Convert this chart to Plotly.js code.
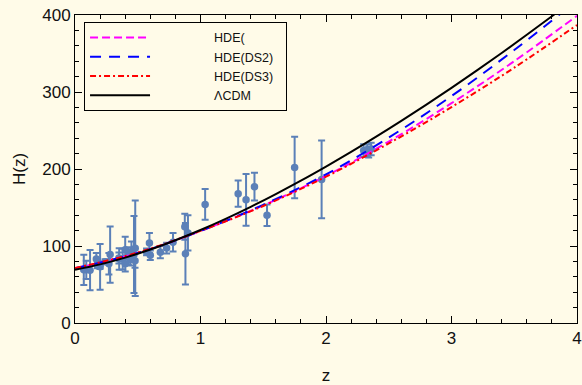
<!DOCTYPE html>
<html>
<head>
<meta charset="utf-8">
<script src="https://cdn.plot.ly/plotly-3.0.1.min.js"></script>
<style>html,body{margin:0;padding:0;background:#fffbe8;}</style>
</head>
<body>
<div id="chart" style="width:582px;height:385px;"></div>
<script>
// Observational H(z) data
const zObs = [0.07,0.09,0.12,0.17,0.179,0.199,0.2,0.24,0.27,0.28,0.35,0.352,0.3802,0.4,0.4004,0.4247,0.43,0.44,0.4497,0.47,0.4783,0.48,0.57,0.593,0.6,0.68,0.73,0.781,0.875,0.88,0.9,1.037,1.3,1.363,1.43,1.53,1.75,1.965,2.3,2.33,2.34,2.36];
const hObs = [69,69,68.6,83,75,75,72.9,79.7,77,88.8,84.4,83,83,95,77,87.1,86.5,82.6,92.8,89,80.9,97,92.4,104,87.9,92,97.3,105,125,90,117,154,168,160,177,140,202,186.5,224,224,222,226];
const hErr = [19.6,12,26.2,8,4,5,29.6,3,14,36.6,7,14,13.5,17,10.2,11.2,3.7,7.8,12.9,50,9,62,4.5,13,6.1,8,7,12,17,40,23,20,17,33.6,18,14,40,50.4,8,8,7,8];

// Model curves
const zModel = [0,0.5,1,1.5,2,2.5,3,3.5,4];
const hHDE1 = [71.1,90.9,119.6,152.7,191,235.7,285.5,340,399];
const hDS2  = [71.1,90.9,119.6,153.5,193,240.8,294.7,354.5,418.8];
const hDS3  = [71.4,91.4,119.6,152,190,233.2,280.4,331.6,387];
const zL = [0,0.2,0.4,0.6,0.8,1,1.2,1.4,1.6,1.8,2,2.2,2.4,2.6,2.8,3,3.2,3.4,3.6,3.8,4];
const hLCDM = [69,76.1,84.9,95.4,107.5,120.8,135.3,150.9,167.5,184.9,203.2,222.2,242,262.5,283.6,305.4,327.7,350.7,374.3,398.4,423];

const names = ['HDE(', 'HDE(DS2)', 'HDE(DS3)', '\u039BCDM'];
const pad = '\u00a0'.repeat(17);
const tail = '\u00a0'.repeat(2);

const ptColor = '#5b80b8';
const traces = [
  {x: zObs, y: hObs, type: 'scatter', mode: 'markers', showlegend: false,
   marker: {color: ptColor, size: 7.5},
   error_y: {type: 'data', array: hErr, visible: true, color: ptColor, thickness: 2, width: 3.5}},
  {x: zModel, y: hHDE1, type: 'scatter', mode: 'lines', name: pad + names[0] + tail,
   line: {color: '#ff00ff', width: 2, dash: '8px,4px', shape: 'spline'}},
  {x: zModel, y: hDS2, type: 'scatter', mode: 'lines', name: pad + names[1] + tail,
   line: {color: '#0000ff', width: 2, dash: '11px,8px', shape: 'spline'}},
  {x: zModel, y: hDS3, type: 'scatter', mode: 'lines', name: pad + names[2] + tail,
   line: {color: '#ff0000', width: 2, dash: '6px,3px,2px,3px', shape: 'spline'}},
  {x: zL, y: hLCDM, type: 'scatter', mode: 'lines', name: pad + names[3] + tail,
   line: {color: '#000000', width: 2, shape: 'spline'}}
];

const fontFam = '"Liberation Sans", Arial, sans-serif';
const axisCommon = {
  showgrid: false, zeroline: false, showline: true, linecolor: '#000', linewidth: 1,
  mirror: 'allticks', ticks: 'inside', ticklen: 7, tickcolor: '#000', tickwidth: 1,
  tickfont: {family: fontFam, size: 17, color: '#111'}
};

const layout = {
  width: 582, height: 385,
  paper_bgcolor: '#fffbe8', plot_bgcolor: '#fffbe8',
  margin: {l: 75, r: 5, t: 15, b: 62},
  font: {family: fontFam, color: '#111'},
  xaxis: Object.assign({}, axisCommon, {
    range: [0, 4], dtick: 1, tick0: 0,
    minor: {dtick: 0.2, ticks: 'inside', ticklen: 4, tickcolor: '#000'},
    title: {text: 'z', font: {family: fontFam, size: 17}, standoff: 21}
  }),
  yaxis: Object.assign({}, axisCommon, {
    range: [0, 400], dtick: 100, tick0: 0,
    minor: {dtick: 20, ticks: 'inside', ticklen: 4, tickcolor: '#000'},
    title: {text: 'H(z)', font: {family: fontFam, size: 17}, standoff: 12}
  }),
  legend: {
    x: 0.018, y: 0.978, xanchor: 'left', yanchor: 'top',
    bgcolor: '#fffbe8', bordercolor: '#000', borderwidth: 1,
    font: {family: fontFam, size: 12.5, color: '#111'},
    itemwidth: 60, tracegroupgap: 0
  },
  showlegend: true
};

Plotly.newPlot('chart', traces, layout, {displayModeBar: false, staticPlot: true});
</script>
</body>
</html>
